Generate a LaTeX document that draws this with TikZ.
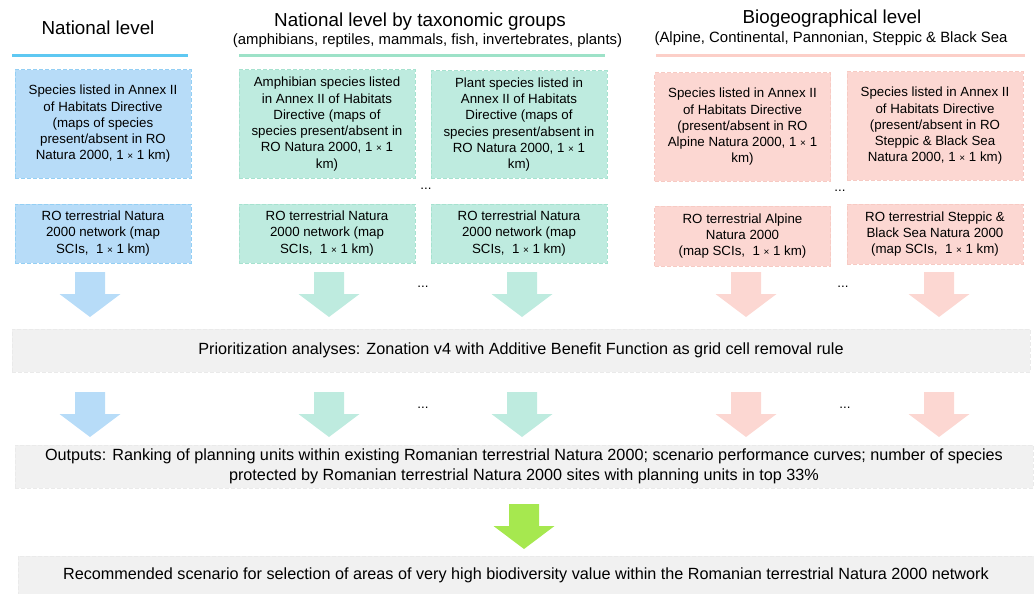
\documentclass[tikz,border=0pt]{standalone}
\usepackage{fontspec}
\setmainfont{Liberation Sans}
\definecolor{bluefill}{HTML}{B7DCF8}
\definecolor{blueedge}{HTML}{94CFF4}
\definecolor{blueline}{HTML}{5EC8F2}
\definecolor{tealfill}{HTML}{BEEBDF}
\definecolor{tealedge}{HTML}{A6E2CF}
\definecolor{tealline}{HTML}{9DE2C8}
\definecolor{pinkfill}{HTML}{FCD7D2}
\definecolor{pinkedge}{HTML}{F7CAC3}
\definecolor{pinkline}{HTML}{FCCFC8}
\definecolor{greyfill}{HTML}{F1F1F1}
\definecolor{greyedge}{HTML}{EAEAEA}
\definecolor{arrowgreen}{HTML}{A6E84F}
\newcommand{\titlefont}{\fontsize{18.8}{22}\selectfont}
\newcommand{\subfont}{\fontsize{14.9}{18}\selectfont}
\newcommand{\boxfont}{\fontsize{13.3}{16.25}\selectfont}
\newcommand{\stepfont}{\fontsize{16.2}{20}\selectfont}
\newcommand{\cross}{{\fontsize{10}{10}\selectfont ×}}
\tikzset{
  mapbox/.style={dash pattern=on 4pt off 2pt, line width=1pt, align=center, inner sep=0pt, minimum width=176, font=\boxfont},
  bluebox/.style={mapbox, draw=blueedge, fill=bluefill},
  tealbox/.style={mapbox, draw=tealedge, fill=tealfill},
  pinkbox/.style={mapbox, draw=pinkedge, fill=pinkfill},
  stepbox/.style={dash pattern=on 4pt off 2pt, line width=1pt, draw=greyedge, fill=greyfill, align=center, inner sep=0pt, font=\stepfont},
  heading/.style={anchor=base, font=\titlefont},
  subheading/.style={anchor=base, font=\subfont},
  downarrow/.pic={\path[pic actions] (-15,0) -- (15,0) -- (15,22) -- (30.5,22) -- (0,45) -- (-30.5,22) -- (-15,22) -- cycle;}
}
\begin{document}
\begin{tikzpicture}[x=1pt, y=-1pt]
	\useasboundingbox (0,0) rectangle (1034,594);
	% column headings
	\node[heading] (natlevel) at (98,34.3) {National level};
	\node[heading] (taxlevel) at (420,26.7) {National level by taxonomic groups};
	\node[subheading] (taxsub) at (427.5,45) {(amphibians, reptiles, mammals, fish, invertebrates, plants)};
	\node[heading] (biolevel) at (832,24) {Biogeographical level};
	\node[subheading] (biosub) at (831,43) {(Alpine, Continental, Pannonian, Steppic \& Black Sea};
	\draw[blueline, line width=3pt] (12,56) -- (188,56);
	\draw[tealline, line width=3pt] (239,56) -- (605,56);
	\draw[pinkline, line width=3pt] (656,56) -- (1025,56);
	% species maps
	\node[bluebox, minimum height=108] (natsp) at (103,124) {Species listed in Annex II\\of Habitats Directive\\(maps of species\\present/absent in RO\\Natura 2000, 1 \cross{} 1 km)};
	\node[tealbox, minimum height=108] (amphsp) at (327,124) {Amphibian species listed\\in Annex II of Habitats\\Directive (maps of\\species present/absent in\\RO Natura 2000, 1 \cross{} 1\\km)};
	\node[tealbox, minimum height=107] (plantsp) at (519,124.5) {Plant species listed in\\Annex II of Habitats\\Directive (maps of\\species present/absent in\\RO Natura 2000, 1 \cross{} 1\\km)};
	\node[pinkbox, minimum height=108] (alpsp) at (742.5,127) {Species listed in Annex II\\of Habitats Directive\\(present/absent in RO\\Alpine Natura 2000, 1 \cross{} 1\\km)};
	\node[pinkbox, minimum height=108] (stepsp) at (935,126) {Species listed in Annex II\\of Habitats Directive\\(present/absent in RO\\Steppic \& Black Sea\\Natura 2000, 1 \cross{} 1 km)};
	% network maps
	\node[bluebox, minimum height=59] (natnet) at (103,233.5) {RO terrestrial Natura\\2000 network (map\\SCIs,\ \ 1 \cross{} 1 km)};
	\node[tealbox, minimum height=59] (amphnet) at (327,233.5) {RO terrestrial Natura\\2000 network (map\\SCIs,\ \ 1 \cross{} 1 km)};
	\node[tealbox, minimum height=59] (plantnet) at (519,233.5) {RO terrestrial Natura\\2000 network (map\\SCIs,\ \ 1 \cross{} 1 km)};
	\node[pinkbox, minimum height=60] (alpnet) at (742.5,236) {RO terrestrial Alpine\\Natura 2000\\(map SCIs,\ \ 1 \cross{} 1 km)};
	\node[pinkbox, minimum height=60] (stepnet) at (935,234) {RO terrestrial Steppic \&\\Black Sea Natura 2000\\(map SCIs,\ \ 1 \cross{} 1 km)};
	% dots for the groups left out
	\foreach \dx/\dy [count=\i] in {426/189, 840/191, 423/287, 843/287, 423/408, 845/408}
		\node[font=\boxfont] (gap\i) at (\dx,\dy) {...};
	% analysis steps
	\node[stepbox, minimum width=1018, minimum height=43] (prio) at (521,350.5) {Prioritization analyses: Zonation v4 with Additive Benefit Function as grid cell removal rule};
	\node[stepbox, minimum width=1018, minimum height=43] (outputs) at (524,466.5) {Outputs: Ranking of planning units within existing Romanian terrestrial Natura 2000; scenario performance curves; number of species\\protected by Romanian terrestrial Natura 2000 sites with planning units in top 33\%};
	\node[stepbox, minimum width=1016, minimum height=38] (scenario) at (526,575) {Recommended scenario for selection of areas of very high biodiversity value within the Romanian terrestrial Natura 2000 network};
	\foreach \ax/\col in {90/bluefill, 329/tealfill, 522/tealfill, 746/pinkfill, 939/pinkfill} {
		\pic[fill=\col] at (\ax,272) {downarrow};
		\pic[fill=\col] at (\ax,392) {downarrow};
	}
	\pic[fill=arrowgreen] at (524,504) {downarrow};
\end{tikzpicture}
\end{document}
